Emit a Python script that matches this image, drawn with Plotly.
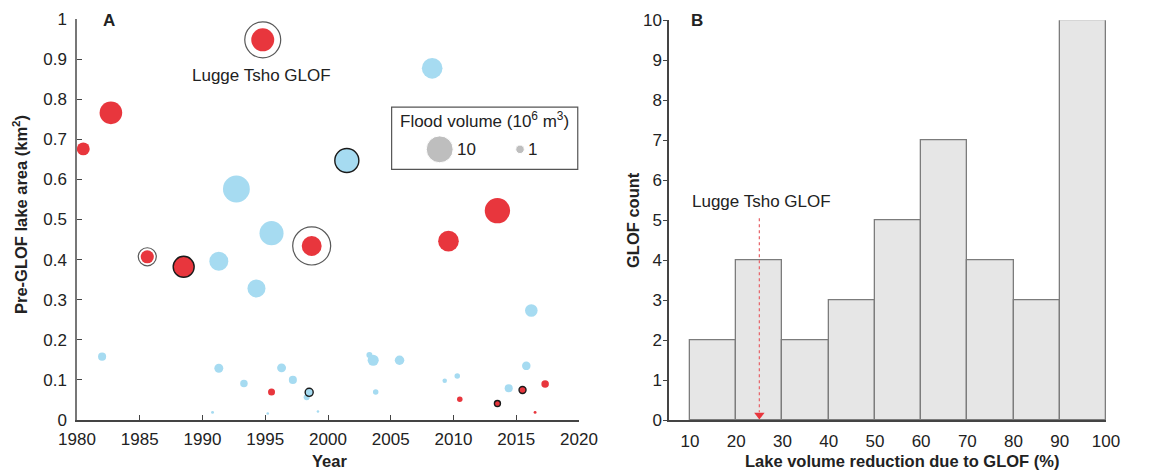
import numpy as np
import plotly.graph_objects as go

# ---------------- Panel A data: GLOF events ----------------
# red = "#E8363D" group, blue = "#A6DBF1" group
red_year = [1980.5, 1982.7, 1994.8, 1985.6, 1988.5, 1998.7, 2009.6, 2013.5,
            1995.5, 2010.5, 2013.5, 2015.5, 2017.3, 2016.5]
red_area = [0.676, 0.766, 0.948, 0.407, 0.382, 0.434, 0.446, 0.522,
            0.070, 0.052, 0.041, 0.075, 0.090, 0.019]
red_volume = [2.3, 7.1, 7.3, 2.4, 6.1, 5.5, 5.9, 8.9,
              0.68, 0.42, 0.5, 0.68, 0.78, 0.12]
red_outlined = [False, False, False, False, True, False, False, False,
                False, False, True, True, False, False]

blue_year = [1982.0, 1991.3, 1994.3, 1992.7, 1995.5, 2001.5, 2008.3, 2016.2,
             1991.3, 1993.3, 1990.8, 1995.2, 1996.3, 1997.2, 1998.3, 1998.5,
             1999.2, 2003.3, 2003.6, 2003.8, 2005.7, 2009.3, 2010.3, 2014.4,
             2015.8]
blue_area = [0.158, 0.396, 0.328, 0.576, 0.466, 0.647, 0.877, 0.273,
             0.129, 0.091, 0.019, 0.016, 0.130, 0.100, 0.057, 0.069,
             0.021, 0.162, 0.149, 0.070, 0.149, 0.098, 0.110, 0.079,
             0.135]
blue_volume = [0.9, 5.0, 4.5, 10.0, 8.0, 8.0, 5.9, 2.2,
               1.1, 0.78, 0.12, 0.09, 1.1, 0.9, 0.5, 0.9,
               0.09, 0.5, 1.7, 0.42, 1.25, 0.28, 0.42, 0.9,
               1.0]
blue_outlined = [False, False, False, False, False, True, False, False,
                 False, False, False, False, False, False, False, True,
                 False, False, False, False, False, False, False, False,
                 False]

# open rings around selected events (year, area, volume of ring)
ring_year = [1994.8, 1985.6, 1998.7]
ring_area = [0.948, 0.407, 0.434]
ring_volume = [17.9, 4.5, 20.0]

legend_volumes = [10, 1]
legend_labels = ["10", "1"]

# ---------------- Panel B data: histogram counts ----------------
bin_left = [10, 20, 30, 40, 50, 60, 70, 80, 90]
bin_count = [2, 4, 2, 3, 5, 7, 4, 3, 10]
lugge_reduction = 25
y_ticks_b = list(range(0, 11))
x_ticks_b = [10, 20, 30, 40, 50, 60, 70, 80, 90, 100]

RED = "#E8363D"
BLUE = "#A6DBF1"
FONT = "Liberation Sans, Arial, sans-serif"
AX = "#444444"
D1 = 8.5  # marker diameter (px) for a volume of 1 x 10^6 m^3


def diam(v):
    return D1 * np.sqrt(np.asarray(v, dtype=float))


fig = go.Figure()

# rings (drawn first)
fig.add_trace(go.Scatter(
    x=ring_year, y=ring_area, mode="markers", xaxis="x", yaxis="y",
    marker=dict(symbol="circle-open", size=diam(ring_volume),
                color="#111111", line=dict(width=1.2)),
    hoverinfo="skip", showlegend=False))

for yrs, areas, vols, outl, col in [
        (blue_year, blue_area, blue_volume, blue_outlined, BLUE),
        (red_year, red_area, red_volume, red_outlined, RED)]:
    lc = ["#1a1a1a" if o else "rgba(255,255,255,0)" for o in outl]
    lw = [1.4 if o else 0 for o in outl]
    fig.add_trace(go.Scatter(
        x=yrs, y=areas, mode="markers", xaxis="x", yaxis="y",
        marker=dict(size=diam(vols), color=col, opacity=1,
                    line=dict(color=lc, width=lw)),
        showlegend=False))

# size key
key_x = [2008.9, 2015.3]
key_y = [0.675, 0.675]
fig.add_trace(go.Scatter(
    x=key_x, y=key_y, mode="markers", xaxis="x", yaxis="y",
    marker=dict(size=diam(legend_volumes), color="#A3A3A3"),
    hoverinfo="skip", showlegend=False))

# histogram bars
centers = [b + 5 for b in bin_left]
fig.add_trace(go.Bar(
    x=centers, y=bin_count, width=10, xaxis="x2", yaxis="y2",
    marker=dict(color="#E6E6E6", line=dict(color="#7C7C7C", width=1.3)),
    showlegend=False))

# Lugge Tsho arrow
fig.add_trace(go.Scatter(
    x=[lugge_reduction, lugge_reduction], y=[5.05, 0.2], mode="lines",
    xaxis="x2", yaxis="y2",
    line=dict(color="#E86A6F", width=1.3, dash="3px,3px"),
    hoverinfo="skip", showlegend=False))
fig.add_trace(go.Scatter(
    x=[lugge_reduction], y=[0.13], mode="markers", xaxis="x2", yaxis="y2",
    marker=dict(symbol="triangle-down", size=9, color="#E8363D"),
    hoverinfo="skip", showlegend=False))

tickfont = dict(family=FONT, size=17, color="#222222")
common = dict(showgrid=False, zeroline=False, automargin=False,
              tickfont=tickfont, showline=True, linewidth=1.5)

fig.update_layout(
    width=1173, height=472,
    margin=dict(l=0, r=0, t=0, b=0, autoexpand=False),
    paper_bgcolor="white", plot_bgcolor="white",
    font=dict(family=FONT, size=17, color="#222222"),
    xaxis=dict(domain=[77 / 1173, 579 / 1173], range=[1980, 2020],
               anchor="y",
               tickvals=list(range(1980, 2021, 5)), ticks="inside",
               ticklen=5, tickcolor=AX, linecolor=AX,
               ticklabelstandoff=3, **common),
    yaxis=dict(domain=[1 - 420 / 472, 1 - 19 / 472], range=[0, 1],
               anchor="x",
               tickvals=[0, 0.1, 0.2, 0.3, 0.4, 0.5, 0.6, 0.7, 0.8, 0.9, 1],
               ticktext=["0", "0.1", "0.2", "0.3", "0.4", "0.5", "0.6",
                         "0.7", "0.8", "0.9", "1"],
               ticks="inside", ticklen=5, tickcolor=AX,
               linecolor="#777777", ticklabelstandoff=5, **common),
    xaxis2=dict(domain=[669 / 1173, 1106 / 1173], range=[5.45, 100],
                anchor="y2",
                tickvals=x_ticks_b, ticks="", linecolor=AX,
                ticklabelstandoff=5, **common),
    yaxis2=dict(domain=[1 - 420.3 / 472, 1 - 20.3 / 472], range=[0, 10],
                anchor="x2",
                tickvals=y_ticks_b, ticks="outside", ticklen=4, tickcolor=AX,
                linecolor=AX, ticklabelstandoff=-2, **common),
    bargap=0,
)

# legend box for flood volume
fig.add_shape(type="rect", xref="x", yref="y", x0=2005.07, x1=2019.9,
              y0=0.625, y1=0.780, line=dict(color="#555555", width=1.2),
              fillcolor="rgba(0,0,0,0)")


def note(x, y, text, xref="paper", yref="paper", xanchor="center",
         size=17, angle=0):
    return dict(x=x, y=y, xref=xref, yref=yref, text=text, showarrow=False,
                xanchor=xanchor, yanchor="middle", textangle=angle,
                font=dict(size=size))


annotations = [
    note(2012.5, 0.748, "Flood volume (10<sup>6</sup> m<sup>3</sup>)",
         "x", "y"),
    note(2010.15, 0.675, legend_labels[0], "x", "y", xanchor="left"),
    note(2015.75, 0.675, legend_labels[1], "x", "y", xanchor="left"),
    note(1994.7, 0.86, "Lugge Tsho GLOF", "x", "y"),
    note(10, 5.48, "Lugge Tsho GLOF", "x2", "y2", xanchor="left"),
    note(109 / 1173, 1 - 20 / 472, "<b>A</b>", size=17),
    note(697 / 1173, 1 - 20 / 472, "<b>B</b>", size=17),
    note(20 / 1173, 1 - 215 / 472,
         "<b>Pre-GLOF lake area (km<sup>2</sup>)</b>", size=16.5, angle=-90),
    note(329 / 1173, 1 - 461 / 472, "<b>Year</b>", size=16.5),
    note(633 / 1173, 1 - 220 / 472, "<b>GLOF count</b>", size=16.5,
         angle=-90),
    note(902 / 1173, 1 - 461 / 472,
         "<b>Lake volume reduction due to GLOF (%)</b>", size=16.5),
]
fig.update_layout(annotations=annotations)

fig.write_html("out.html")
